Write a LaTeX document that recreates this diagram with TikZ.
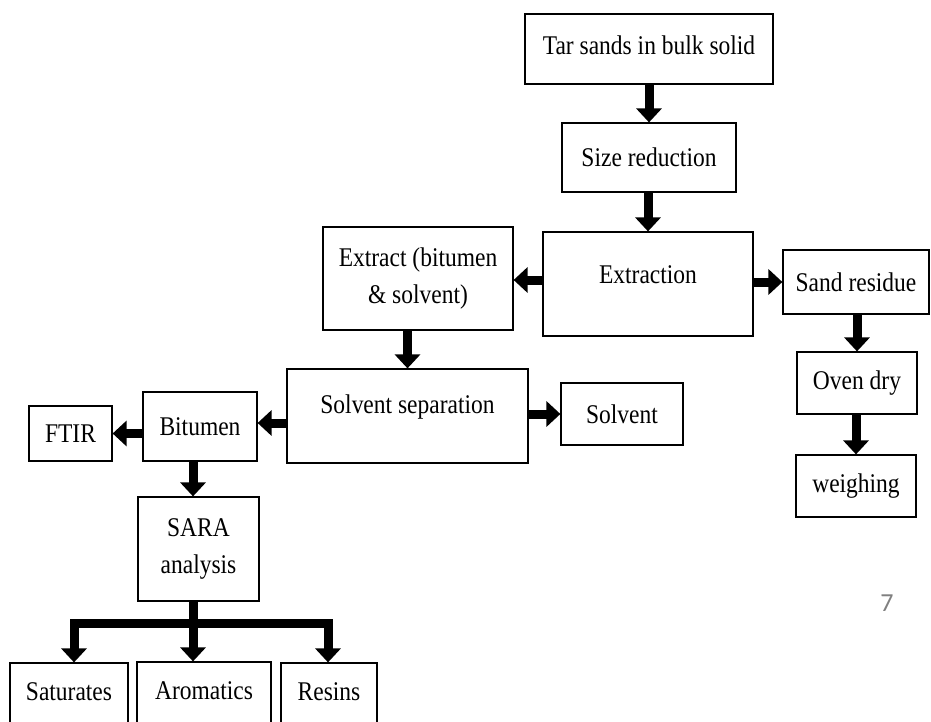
\documentclass[tikz,border=0pt]{standalone}
\usepackage{fontspec}
\setmainfont{Liberation Serif}[FakeStretch=0.87]
\newfontfamily\slidefont{Carlito}
\usetikzlibrary{arrows.meta}

\tikzset{
  box/.style={draw, line width=1.2pt, inner sep=0pt, align=center,
    font=\fontsize{27}{37}\selectfont},
  fat/.style={line width=9pt, -{Triangle[length=14pt,width=25pt]}},
  bar/.style={line width=9pt, line cap=rect}
}

\begin{document}
\begin{tikzpicture}[x=1pt, y=-1pt]
    % Fix the page to the slide frame
    \useasboundingbox (0,0) rectangle (931,722);
    \clip (0,0) rectangle (931,722);

    % Main line from the raw material down to the extraction
    \node[box, minimum width=248pt, minimum height=70pt, text depth=8pt] (tar) at (649,49) {Tar sands in bulk solid};
    \node[box, minimum width=174pt, minimum height=69pt] (size) at (649,157.5) {Size reduction};
    \node[box, minimum width=210pt, minimum height=104pt, text depth=18pt] (extn) at (648,284) {Extraction};

    % Left branch: the extract and its separation
    \node[box, minimum width=190pt, minimum height=103pt] (extr) at (418,278.5) {Extract (bitumen\\ \& solvent)};
    \node[box, minimum width=241pt, minimum height=94pt, text depth=24pt] (solvsep) at (407.5,416) {Solvent separation};
    \node[box, minimum width=122pt, minimum height=62pt] (solvent) at (622,414) {Solvent};
    \node[box, minimum width=114pt, minimum height=69pt] (bitumen) at (200,426.5) {Bitumen};
    \node[box, minimum width=83pt, minimum height=55pt] (ftir) at (70.5,433.5) {FTIR};
    \node[box, minimum width=121pt, minimum height=104pt] (sara) at (198.5,549) {SARA\\ analysis};

    % SARA fractions, cut off by the bottom of the slide
    \node[box, minimum width=118pt, minimum height=80pt, text depth=22pt] (sat) at (69,703) {Saturates};
    \node[box, minimum width=134pt, minimum height=80pt, text depth=22pt] (arom) at (204,702) {Aromatics};
    \node[box, minimum width=96pt, minimum height=80pt, text depth=22pt] (res) at (329,703) {Resins};

    % Right branch: the sand residue
    \node[box, minimum width=146pt, minimum height=64pt] (sand) at (856,282) {Sand residue};
    \node[box, minimum width=120pt, minimum height=62pt] (oven) at (857,383) {Oven dry};
    \node[box, minimum width=120pt, minimum height=62pt] (weigh) at (856,486) {weighing};

    % Slide number
    \node[font=\slidefont\fontsize{26}{26}\selectfont, text=black!50] (pagenum) at (887,603) {7};

    % Arrows of the main line
    \draw[fat] (tar) -- (size);
    \draw[fat] (size.south -| extn.north) -- (extn.north);
    \draw[fat] (extn.west |- 0,280) -- (extr.east |- 0,280);
    \draw[fat] (extr.south -| solvsep.north) -- (solvsep.north);
    \draw[fat] (solvsep.east |- solvent.west) -- (solvent.west);
    \draw[fat] (solvsep.west |- 0,423) -- (bitumen.east |- 0,423);
    \draw[fat] (bitumen.west |- ftir.east) -- (ftir.east);
    \draw[fat] ([xshift=-7pt]bitumen.south) -- ([xshift=-7pt]bitumen.south |- sara.north);

    % Arrows of the sand residue
    \draw[fat] (extn.east |- sand.west) -- (sand.west);
    \draw[fat] (sand.south -| oven.north) -- (oven.north);
    \draw[fat] (oven.south -| weigh.north) -- (weigh.north);

    % Split of the SARA analysis into its fractions
    \coordinate (split) at (193,623);
    \coordinate (splitL) at (74,623);
    \coordinate (splitR) at (328,623);
    \draw[line width=9pt] ([xshift=-5pt]sara.south) -- ([xshift=-5pt]sara.south |- split);
    \draw[bar] (splitL) -- (splitR);
    \draw[fat] (splitL) -- (sat.north -| splitL);
    \draw[fat] (split) -- (arom.north -| split);
    \draw[fat] (splitR) -- (res.north -| splitR);
\end{tikzpicture}
\end{document}
